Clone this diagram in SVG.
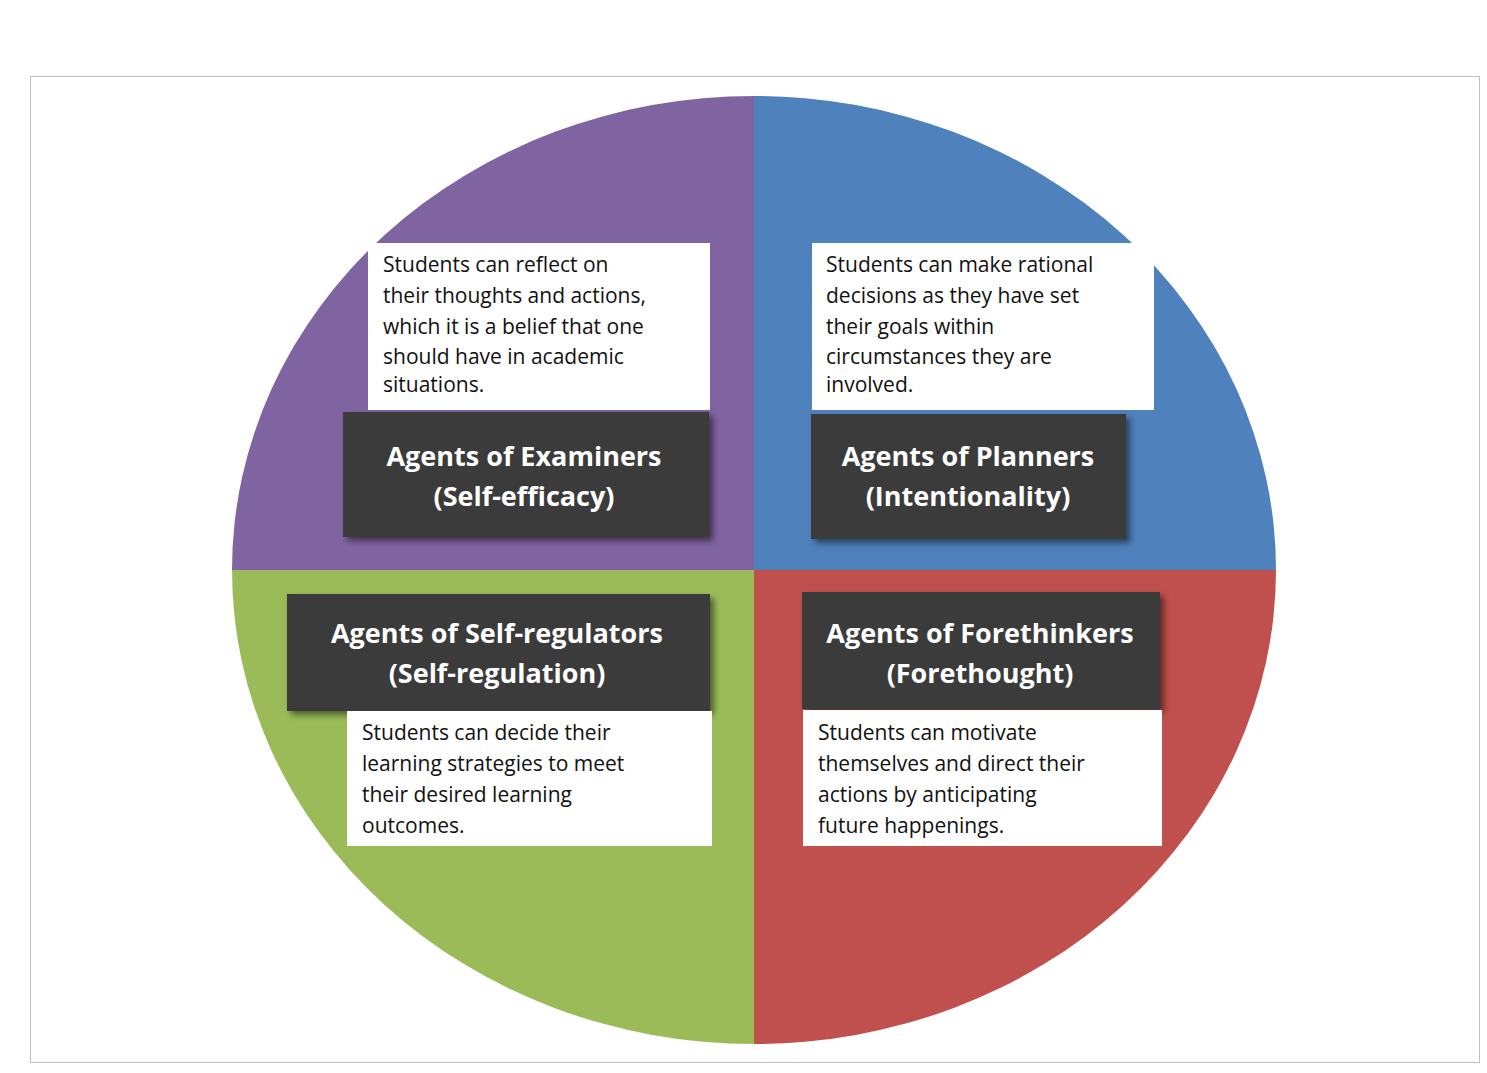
<svg xmlns="http://www.w3.org/2000/svg" width="1487" height="1073" viewBox="0 0 1487 1073">
<defs>
<style>
.w{fill:#fff}
.d{fill:#3b3b3b}
.t{font-family:"Open Sans","Liberation Sans",sans-serif;font-size:21px;fill:#111}
.h{font-family:"Open Sans","Liberation Sans",sans-serif;font-size:27px;font-weight:bold;fill:#fff;text-anchor:middle}
</style>
<filter id="sh" x="-10%" y="-10%" width="130%" height="130%"><feDropShadow dx="4" dy="4" stdDeviation="3" flood-opacity="0.5"/></filter>
</defs>
<rect width="1487" height="1073" fill="#fff"/>
<rect x="30.5" y="76.5" width="1449" height="986" fill="#fff" stroke="#bfbfbf"/>
<g id="pie">
<path d="M754,570 L232,570 A522,474 0 0 1 754,96 Z" fill="#8064A2"/>
<path d="M754,570 L754,96 A522,474 0 0 1 1276,570 Z" fill="#4F81BD"/>
<path d="M754,570 L1276,570 A522,474 0 0 1 754,1044 Z" fill="#C0504D"/>
<path d="M754,570 L754,1044 A522,474 0 0 1 232,570 Z" fill="#9BBB59"/>
</g>
<g id="examiners">
<rect class="w" x="368" y="243" width="342" height="167"/>
<text class="t" x="383" y="272">Students can reflect on</text>
<text class="t" x="383" y="303">their thoughts and actions,</text>
<text class="t" x="383" y="334">which it is a belief that one</text>
<text class="t" x="383" y="364">should have in academic</text>
<text class="t" x="383" y="392">situations.</text>
<rect class="d" x="343" y="412" width="366" height="125" filter="url(#sh)"/>
<text class="h" x="524" y="466">Agents of Examiners</text>
<text class="h" x="524" y="506">(Self-efficacy)</text>
</g>
<g id="planners">
<rect class="w" x="812" y="243" width="342" height="167"/>
<text class="t" x="826" y="272">Students can make rational</text>
<text class="t" x="826" y="303">decisions as they have set</text>
<text class="t" x="826" y="334">their goals within</text>
<text class="t" x="826" y="364">circumstances they are</text>
<text class="t" x="826" y="392">involved.</text>
<rect class="d" x="811" y="414" width="315" height="125" filter="url(#sh)"/>
<text class="h" x="968" y="466">Agents of Planners</text>
<text class="h" x="968" y="506">(Intentionality)</text>
</g>
<g id="selfregulators">
<rect class="d" x="287" y="594" width="423" height="117" filter="url(#sh)"/>
<text class="h" x="497" y="643">Agents of Self-regulators</text>
<text class="h" x="497" y="683">(Self-regulation)</text>
<rect class="w" x="347" y="711" width="365" height="135"/>
<text class="t" x="362" y="740">Students can decide their</text>
<text class="t" x="362" y="771">learning strategies to meet</text>
<text class="t" x="362" y="802">their desired learning</text>
<text class="t" x="362" y="833">outcomes.</text>
</g>
<g id="forethinkers">
<rect class="d" x="802" y="592" width="358" height="117" filter="url(#sh)"/>
<text class="h" x="980" y="643">Agents of Forethinkers</text>
<text class="h" x="980" y="683">(Forethought)</text>
<rect class="w" x="803" y="710" width="359" height="136"/>
<text class="t" x="818" y="740">Students can motivate</text>
<text class="t" x="818" y="771">themselves and direct their</text>
<text class="t" x="818" y="802">actions by anticipating</text>
<text class="t" x="818" y="833">future happenings.</text>
</g>
<g id="connectors"/>
</svg>
